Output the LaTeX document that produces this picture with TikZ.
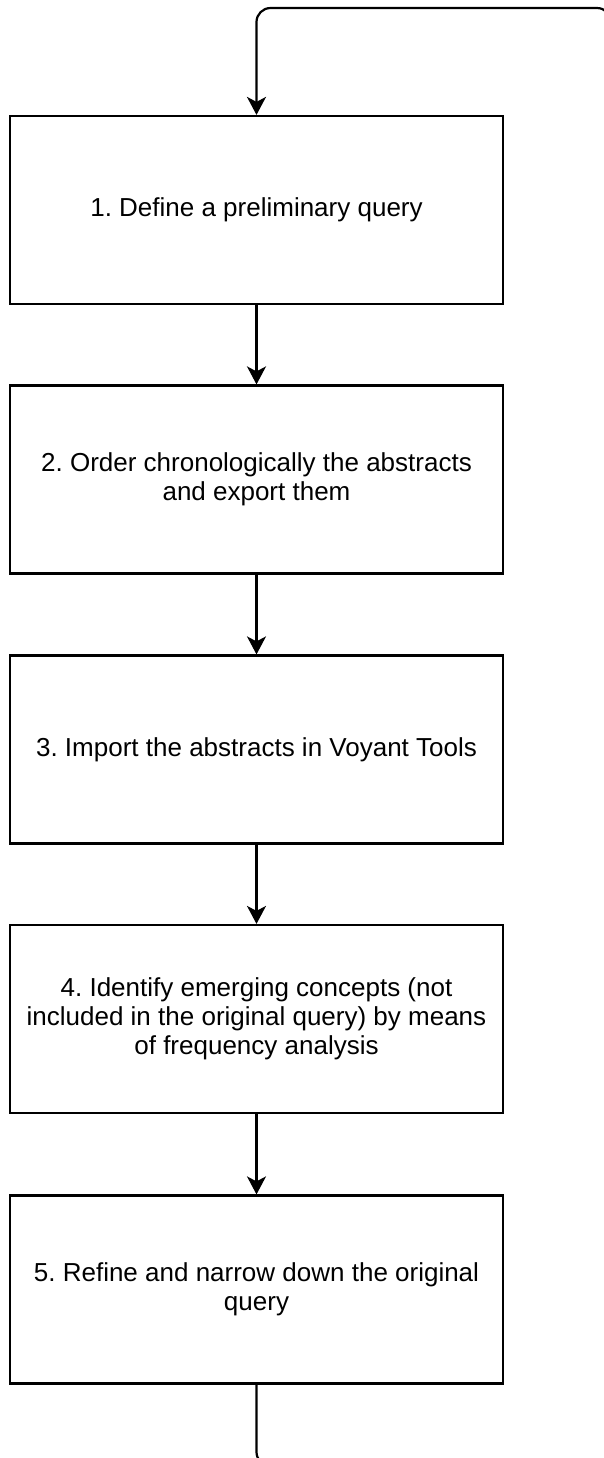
\documentclass[tikz,border=0pt]{standalone}
\usepackage{fontspec}
\setmainfont{Liberation Sans}
\usepackage{tikz}
\usetikzlibrary{arrows.meta}
\frenchspacing

\tikzset{
  stepbox/.style={draw, line width=1.1pt, minimum width=246.5pt, minimum height=94pt,
    align=center, inner sep=0pt, font=\fontsize{13}{14.5}\selectfont},
  flow/.style={line width=1.1pt, -{Stealth[length=9pt,width=9.5pt,inset=2.5pt]}}
}

\begin{document}
\begin{tikzpicture}[x=0.5pt,y=-0.5pt]
\useasboundingbox (0,0) rectangle (604,1458);
\node [stepbox] (s1) at (256.5,210) {1. Define a preliminary query};
\node [stepbox] (s2) at (256.5,479.5) {2. Order chronologically the abstracts\\and export them};
\node [stepbox] (s3) at (256.5,749.5) {3. Import the abstracts in Voyant Tools};
\node [stepbox] (s4) at (256.5,1019) {4. Identify emerging concepts (not\\included in the original query) by means\\of frequency analysis};
\node [stepbox] (s5) at (256.5,1289.5) {5. Refine and narrow down the original\\query};
\draw [flow] (s1) -- (s2);
\draw [flow] (s2) -- (s3);
\draw [flow] (s3) -- (s4);
\draw [flow] (s4) -- (s5);
% feedback loop back to the first step
\draw [flow, rounded corners=7pt] (s5.south) -- (256.5,1466) -- (611,1466) -- (611,8) -- (256.5,8) -- (s1.north);
\end{tikzpicture}
\end{document}
